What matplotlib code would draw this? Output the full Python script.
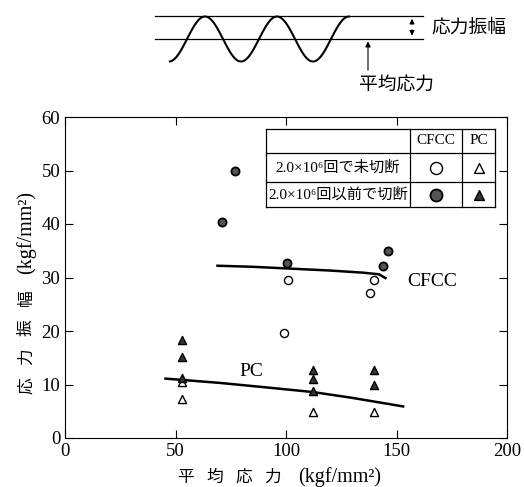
import numpy as np
import matplotlib.pyplot as plt

plt.rcParams['font.family'] = ['Liberation Serif', 'Noto Sans CJK JP', 'DejaVu Serif']

# CFCC (circles)
cfcc_open_x = [101, 99, 140, 138]
cfcc_open_y = [29.5, 19.6, 29.5, 27.1]
cfcc_fill_x = [77, 71, 100.5, 146, 144]
cfcc_fill_y = [49.9, 40.4, 32.7, 35.0, 32.1]
cfcc_line_x = [69, 85, 100, 120, 135, 142, 145]
cfcc_line_y = [32.2, 32.0, 31.7, 31.3, 30.9, 30.6, 29.9]

# PC (triangles)
pc_open_x = [53, 53, 112, 140]
pc_open_y = [10.5, 7.3, 4.9, 4.9]
pc_fill_x = [53, 53, 53, 112, 112, 112, 140, 140]
pc_fill_y = [18.3, 15.1, 11.2, 12.8, 11.0, 8.8, 12.7, 9.9]
pc_line_x = [45.5, 70, 90, 112, 130, 153]
pc_line_y = [11.1, 10.3, 9.5, 8.6, 7.5, 5.9]

W, H = 524, 487
fig = plt.figure(figsize=(W / 100, H / 100), dpi=100)
ax = fig.add_axes([65 / W, 1 - 438 / H, (507 - 65) / W, (438 - 117) / H])

ax.plot(cfcc_line_x, cfcc_line_y, color='black', lw=1.8)
ax.plot(pc_line_x, pc_line_y, color='black', lw=1.8)
ax.scatter(cfcc_open_x, cfcc_open_y, s=34, facecolors='white', edgecolors='black', linewidths=1.0, zorder=3)
ax.scatter(cfcc_fill_x, cfcc_fill_y, s=34, facecolors='#555555', edgecolors='black', linewidths=1.3, zorder=3)
ax.scatter(pc_open_x, pc_open_y, s=34, marker='^', facecolors='white', edgecolors='black', linewidths=1.0, zorder=3)
ax.scatter(pc_fill_x, pc_fill_y, s=34, marker='^', facecolors='#333333', edgecolors='black', linewidths=1.0, zorder=3)

ax.text(155, 29.3, 'CFCC', fontsize=14, va='center', ha='left')
ax.text(79, 12.4, 'PC', fontsize=14, va='center', ha='left')

ax.set_xlim(0, 200)
ax.set_ylim(0, 60)
ax.set_xticks([0, 50, 100, 150, 200])
ax.set_yticks([0, 10, 20, 30, 40, 50, 60])
ax.tick_params(direction='in', top=True, right=True, labelsize=13.5, length=6, width=0.8)

# overlay in pixel coordinates for axis titles, schematic and legend table
ov = fig.add_axes([0, 0, 1, 1])
ov.set_xlim(0, W)
ov.set_ylim(H, 0)
ov.axis('off')

# axis titles: widely spaced CJK characters, then the unit
for i, ch in enumerate('平均応力'):
    ov.text(185 + 29.3 * i, 478, ch, fontsize=12, ha='center', va='center')
ov.text(340, 477, '(kgf/mm²)', fontsize=14.5, ha='center', va='center')
for i, ch in enumerate('応力振幅'):
    ov.text(27, 386 - 29.3 * i, ch, fontsize=12, ha='center', va='center', rotation=90)
ov.text(26, 232, '(kgf/mm²)', fontsize=14.5, ha='center', va='center', rotation=90)

# schematic of stress cycle
ov.plot([155, 423], [16, 16], color='black', lw=0.9)
ov.plot([155, 423], [38.5, 38.5], color='black', lw=0.9)
wx = np.linspace(170, 349, 300)
wy = 39 - 22.5 * np.cos(2 * np.pi * (wx - 205) / 72)
ov.plot(wx, wy, color='black', lw=1.5)
ov.annotate('', xy=(412, 16), xytext=(412, 27), arrowprops=dict(arrowstyle='-|>', color='black', lw=0.8, mutation_scale=7))
ov.annotate('', xy=(412, 38.5), xytext=(412, 27), arrowprops=dict(arrowstyle='-|>', color='black', lw=0.8, mutation_scale=7))
ov.text(431, 28, '応力振幅', fontsize=13.5, va='center', ha='left')
ov.annotate('', xy=(368, 38.5), xytext=(368, 73), arrowprops=dict(arrowstyle='-|>', color='black', lw=0.8, mutation_scale=8))
ov.text(359, 85, '平均応力', fontsize=13.5, va='center', ha='left')

# legend table
tx = [266, 410, 462, 495]
ty = [129, 153, 182, 207]
for y in ty:
    ov.plot([tx[0], tx[-1]], [y, y], color='black', lw=0.9)
for x in tx:
    ov.plot([x, x], [ty[0], ty[-1]], color='black', lw=0.9)
ov.text((tx[1] + tx[2]) / 2, (ty[0] + ty[1]) / 2, 'CFCC', fontsize=11, ha='center', va='center')
ov.text((tx[2] + tx[3]) / 2, (ty[0] + ty[1]) / 2, 'PC', fontsize=11, ha='center', va='center')
ov.text((tx[0] + tx[1]) / 2, (ty[1] + ty[2]) / 2, '2.0×10⁶回で未切断', fontsize=11, ha='center', va='center')
ov.text((tx[0] + tx[1]) / 2, (ty[2] + ty[3]) / 2, '2.0×10⁶回以前で切断', fontsize=11, ha='center', va='center')
cx1 = (tx[1] + tx[2]) / 2
cx2 = (tx[2] + tx[3]) / 2
r1 = (ty[1] + ty[2]) / 2
r2 = (ty[2] + ty[3]) / 2
ov.scatter([cx1], [r1], s=75, facecolors='white', edgecolors='black', linewidths=1.0)
ov.scatter([cx1], [r2], s=75, facecolors='#555555', edgecolors='black', linewidths=1.3)
ov.scatter([cx2], [r1], s=50, marker='^', facecolors='white', edgecolors='black', linewidths=1.0)
ov.scatter([cx2], [r2], s=50, marker='^', facecolors='#333333', edgecolors='black', linewidths=1.0)

fig.savefig('out.png', dpi=100)
